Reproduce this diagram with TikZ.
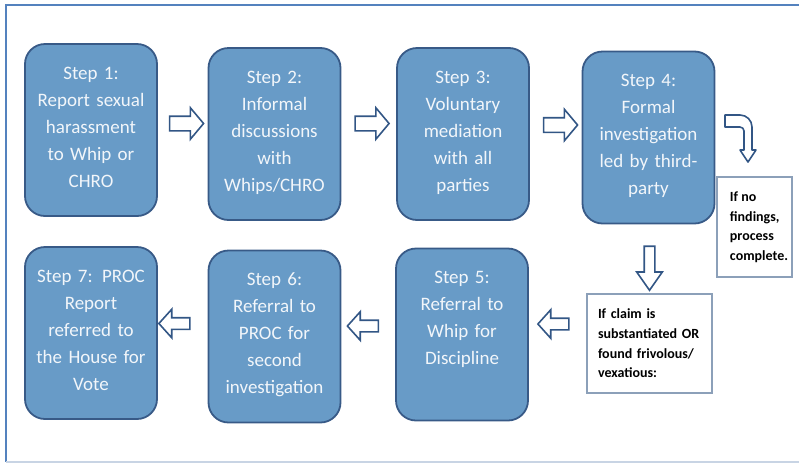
\documentclass[tikz,border=0pt]{standalone}
\usepackage{fontspec}
\setmainfont{Carlito}
\usetikzlibrary{shapes.arrows}

\definecolor{stepfill}{RGB}{104,155,199}
\definecolor{stepline}{RGB}{56,90,135}
\definecolor{steptext}{RGB}{242,246,250}
\definecolor{arrowline}{RGB}{50,86,133}
\definecolor{noteline}{RGB}{140,160,185}
\definecolor{frameblue}{RGB}{84,130,190}
\definecolor{framelight}{RGB}{200,212,228}

\tikzset{
  stepbox/.style={draw=stepline, fill=stepfill, line width=1.8pt, rounded corners=20pt,
    text=steptext, font=\fontsize{19}{27}\selectfont, align=center, text width=128pt,
    inner xsep=2pt, inner ysep=0pt, text height=35pt, text depth=137pt},
  notebox/.style={draw=noteline, line width=1.2pt, fill=white,
    font=\bfseries\fontsize{14}{19.7}\selectfont, inner xsep=0pt, minimum height=99pt},
  blockarrow/.style={single arrow, draw=arrowline, fill=white, line width=1.6pt},
  rightarrow/.style={blockarrow, inner sep=6.5pt, minimum height=34pt,
    single arrow head extend=8.5pt, single arrow tip angle=100},
  leftarrow/.style={blockarrow, shape border rotate=180, inner sep=5pt, minimum height=31pt,
    single arrow head extend=8.5pt, single arrow tip angle=96},
  downarrow/.style={blockarrow, shape border rotate=270, inner sep=4.5pt, minimum height=44pt,
    single arrow head extend=7.5pt, single arrow tip angle=70},
}

\begin{document}
\begin{tikzpicture}[x=1pt, y=-1pt]

    \useasboundingbox (0,0) rectangle (799,464);

    % Frame
    \draw[frameblue, line width=2.5pt] (799,5) -- (6,5) -- (6,462);
    \draw[framelight, line width=1.5pt] (6,462) -- (799,462);

    % Steps
    \node at (91, 130) (S1) [stepbox] {Step 1:\\Report sexual\\harassment\\to Whip or\\CHRO};
    \node at (274.5, 134) (S2) [stepbox] {Step 2:\\Informal\\discussions\\with\\Whips/CHRO};
    \node at (463, 134) (S3) [stepbox] {Step 3:\\Voluntary\\mediation\\with all\\parties};
    \node at (648.5, 137.5) (S4) [stepbox] {Step 4:\\Formal\\investigation\\led by third-\\party};

    \node at (462, 334.5) (S5) [stepbox] {Step 5:\\Referral to\\Whip for\\Discipline};
    \node at (274.5, 336.5) (S6) [stepbox] {Step 6:\\Referral to\\PROC for\\second\\investigation};
    \node at (91, 333) (S7) [stepbox] {Step 7: PROC\\Report\\referred to\\the House for\\Vote};

    % Notes
    \node at (754.5, 227) (N1) [notebox, minimum width=75pt, minimum height=100pt]
        {\begin{tabular}{@{\hspace{9pt}}l@{}}If no\\findings,\\process\\complete.\end{tabular}};
    \node at (649.5, 343.5) (N2) [notebox, minimum width=125pt, align=left, text width=103pt]
        {If claim is\\substantiated OR\\found frivolous/\\vexatious:};

    % Arrows
    \node at (183.5, 123.5) (A12) [rightarrow] {};
    \node at (369, 123.5) (A23) [rightarrow] {};
    \node at (557.5, 125) (A34) [rightarrow] {};

    \node at (649.5, 264.5) (A4N) [downarrow] {};

    \node at (556, 324) (AN5) [leftarrow] {};
    \node at (365.5, 326) (A56) [leftarrow] {};
    \node at (177, 323.5) (A67) [leftarrow] {};

    % Bent arrow to the first note
    \draw[arrowline, fill=white, line width=1.6pt, line join=round]
        (725,115) -- (740,115) arc (-90:0:12) -- (752,150) -- (756,150) -- (748,162)
        -- (740,150) -- (744,150) -- (744,131) arc (0:-90:4) -- (725,127) -- cycle;

\end{tikzpicture}
\end{document}
